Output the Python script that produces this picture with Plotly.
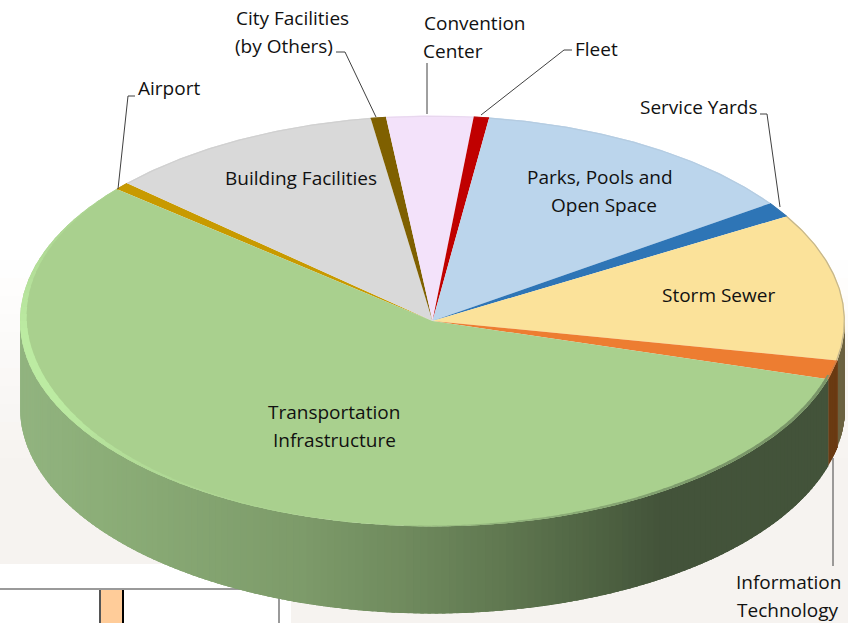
import math
import numpy as np
import plotly.graph_objects as go

# ---- data (clockwise from the Transportation / Airport boundary) ----
categories = ["Airport", "Building Facilities", "City Facilities (by Others)", "Convention Center",
              "Fleet", "Parks, Pools and Open Space", "Service Yards", "Storm Sewer",
              "Information Technology", "Transportation Infrastructure"]
values = [0.6, 10.9, 0.6, 3.4, 0.6, 13.1, 1.2, 11.6, 1.5, 56.6]
top_colors = ["#C89A00", "#D9D9D9", "#7F6000", "#F3E2FA", "#C00000", "#BBD5EC", "#2E75B6", "#FBE29A", "#ED7D31", "#A9D08E"]
side_colors = ["#6B5500", "#7A7A7A", "#4A3A00", "#8A8090", "#700000", "#6F8090", "#1C466D", "#6B6240", "#6A3A12", None]
rim_strength = [0.1, 0.1, 0.1, 0.1, 0.1, 0.1, 0.1, 0.45, 0.3, 0.0]
first_angle = 140.0

# ---- label text: (lines, x of centre, y of each line) ----
label_lines = ["Airport", "City Facilities", "(by Others)", "Convention", "Center", "Fleet", "Service Yards",
               "Building Facilities", "Parks, Pools and", "Open Space", "Storm Sewer",
               "Transportation", "Infrastructure", "Information", "Technology"]
label_x = [169, 292, 284, 475, 453, 596, 698, 301, 600, 604, 718, 334, 334, 788, 788]
label_y = [88, 18, 46, 23, 51, 49, 107, 178, 177, 205, 295, 412, 440, 582, 610]

CX, CY, RX, RY, DEPTH = 432.5, 321.0, 412.5, 205.5, 87.0


def ex(t, k=0.0):
    return CX + (RX - k) * np.cos(np.radians(t))


def ey(t, k=0.0):
    return CY - (RY - k) * np.sin(np.radians(t))


def hex2rgb(h):
    return tuple(int(h[i:i + 2], 16) for i in (1, 3, 5))


def mix(a, b, f):
    a, b = hex2rgb(a), hex2rgb(b)
    return "rgb(%d,%d,%d)" % tuple(round(a[i] + (b[i] - a[i]) * f) for i in range(3))


shade_x = [20, 100, 300, 400, 500, 600, 660, 848]
shade_r = [0x92, 0x8C, 0x7D, 0x70, 0x60, 0x4E, 0x43, 0x43]
shade_g = [0xB4, 0xAE, 0x9B, 0x8B, 0x78, 0x62, 0x53, 0x53]
shade_b = [0x80, 0x78, 0x6A, 0x5E, 0x50, 0x42, 0x3A, 0x3A]


def side_shade(x):
    return "rgb(%d,%d,%d)" % (np.interp(x, shade_x, shade_r), np.interp(x, shade_x, shade_g), np.interp(x, shade_x, shade_b))


total = sum(values)
starts, ends = [], []
a = first_angle
for v in values:
    starts.append(a)
    a -= v / total * 360
    ends.append(a)

fig = go.Figure()


def poly(xs, ys, color, width=0.0):
    fig.add_trace(go.Scatter(x=list(xs), y=list(ys), mode="lines", fill="toself", fillcolor=color,
                             line=dict(color=color, width=width), hoverinfo="skip", showlegend=False))


# side wall: each strip reaches under the next one, so no seams show
for s, e, sc in zip(starts, ends, side_colors):
    if sc is None:
        lo, hi = -180.0, s
    else:
        lo, hi = max(min(s, e), -180), min(max(s, e), 0)
        if lo >= hi:
            continue
    n = max(1, int((hi - lo) / 1.0))
    grid = np.linspace(lo, hi, n + 1)
    for i in range(n):
        g = np.linspace(grid[i], hi if sc else min(grid[i + 1] + 1.5, hi), 4)
        xs = np.r_[ex(g), ex(g[::-1])]
        ys = np.r_[ey(g), ey(g[::-1]) + DEPTH]
        poly(xs, ys, sc if sc else side_shade(float(ex(grid[i]))))

# top faces
for s, e, c in zip(starts, ends, top_colors):
    g = np.linspace(s, e, max(3, int(abs(s - e) * 2)))
    poly(np.r_[CX, ex(g), CX], np.r_[CY, ey(g), CY], c)

# bevel highlight on the near-left edge of the big slice
LIGHT, FACE = "#BCEBA2", "#A9D08E"
for t in np.arange(140, 262, 2.0):
    peak = math.exp(-((t - 192) / 30) ** 2)
    w = 0.5 + 7.5 * peak
    g = np.linspace(t, t + 2.6, 3)
    poly(np.r_[ex(g), ex(g[::-1], w)], np.r_[ey(g), ey(g[::-1], w)], mix(FACE, LIGHT, min(1, 0.1 + peak)))
# soft dark bevel on the near-right edge
for t in np.arange(262, 343.6, 2.0):
    f = min(1, (t - 262) / 50)
    w = 0.5 + 2.5 * f
    g = np.linspace(t, t + 2.6, 3)
    poly(np.r_[ex(g), ex(g[::-1], w)], np.r_[ey(g), ey(g[::-1], w)], mix(FACE, "#6E8860", 0.2 + 0.6 * f))
# thin darker rim on the other slices
for s, e, c, k in zip(starts[:-1], ends[:-1], top_colors[:-1], rim_strength[:-1]):
    g = np.linspace(s, e, max(3, int(abs(s - e) * 2)))
    fig.add_trace(go.Scatter(x=ex(g, 0.7), y=ey(g, 0.7), mode="lines", line=dict(color=mix(c, "#808080", k), width=1.2),
                             hoverinfo="skip", showlegend=False))

shapes = []
# page backdrop
steps = 12
for i in range(steps):
    y0 = 260 + i * 18
    shapes.append(dict(type="rect", xref="x", yref="y", x0=0, x1=848, y0=y0, y1=y0 + 18, layer="below", line_width=0,
                       fillcolor=mix("#FFFFFF", "#F6F3F0", (i + 1) / steps)))
shapes.append(dict(type="rect", x0=0, x1=848, y0=476, y1=623, layer="below", line_width=0, fillcolor="#F6F3F0"))
shapes.append(dict(type="rect", x0=0, x1=291, y0=564, y1=623, layer="below", line_width=0, fillcolor="#FFFFFF"))
shapes.append(dict(type="rect", x0=100, x1=123, y0=589, y1=623, layer="below", line_width=0, fillcolor="#FFCC99"))
shapes.append(dict(type="line", x0=100, x1=100, y0=589, y1=623, layer="below", line=dict(color="#555555", width=2)))
shapes.append(dict(type="line", x0=123, x1=123, y0=589, y1=623, layer="below", line=dict(color="#000000", width=2)))
shapes.append(dict(type="line", x0=0, x1=240, y0=589, y1=589, layer="below", line=dict(color="#9A9A9A", width=2)))
shapes.append(dict(type="line", x0=279, x1=279, y0=598, y1=623, layer="below", line=dict(color="#9A9A9A", width=2)))

# leader lines
leaders = [
    "M 118 189 L 128 96 L 135 96",
    "M 376 117 L 345 52 L 336 52",
    "M 427 114 L 427 63",
    "M 481 115 L 564 50 L 572 50",
    "M 780 207 L 767 114 L 760 114",
    "M 833 458 L 833 566",
]
for p in leaders:
    shapes.append(dict(type="path", path=p, line=dict(color="#404040", width=1)))

annotations = [dict(x=x, y=y, text=t, showarrow=False, xanchor="center", yanchor="middle",
                    font=dict(family="Open Sans", size=19, color="#111111"))
               for t, x, y in zip(label_lines, label_x, label_y)]

fig.update_layout(
    width=848, height=623, margin=dict(l=0, r=0, t=0, b=0),
    paper_bgcolor="#FFFFFF", plot_bgcolor="rgba(0,0,0,0)", showlegend=False,
    xaxis=dict(range=[0, 848], visible=False, fixedrange=True),
    yaxis=dict(range=[623, 0], visible=False, fixedrange=True),
    shapes=shapes, annotations=annotations,
)
fig.write_html("out.html", config={"displayModeBar": False},
               post_script="document.body.style.margin='0';document.body.style.overflow='hidden';")
